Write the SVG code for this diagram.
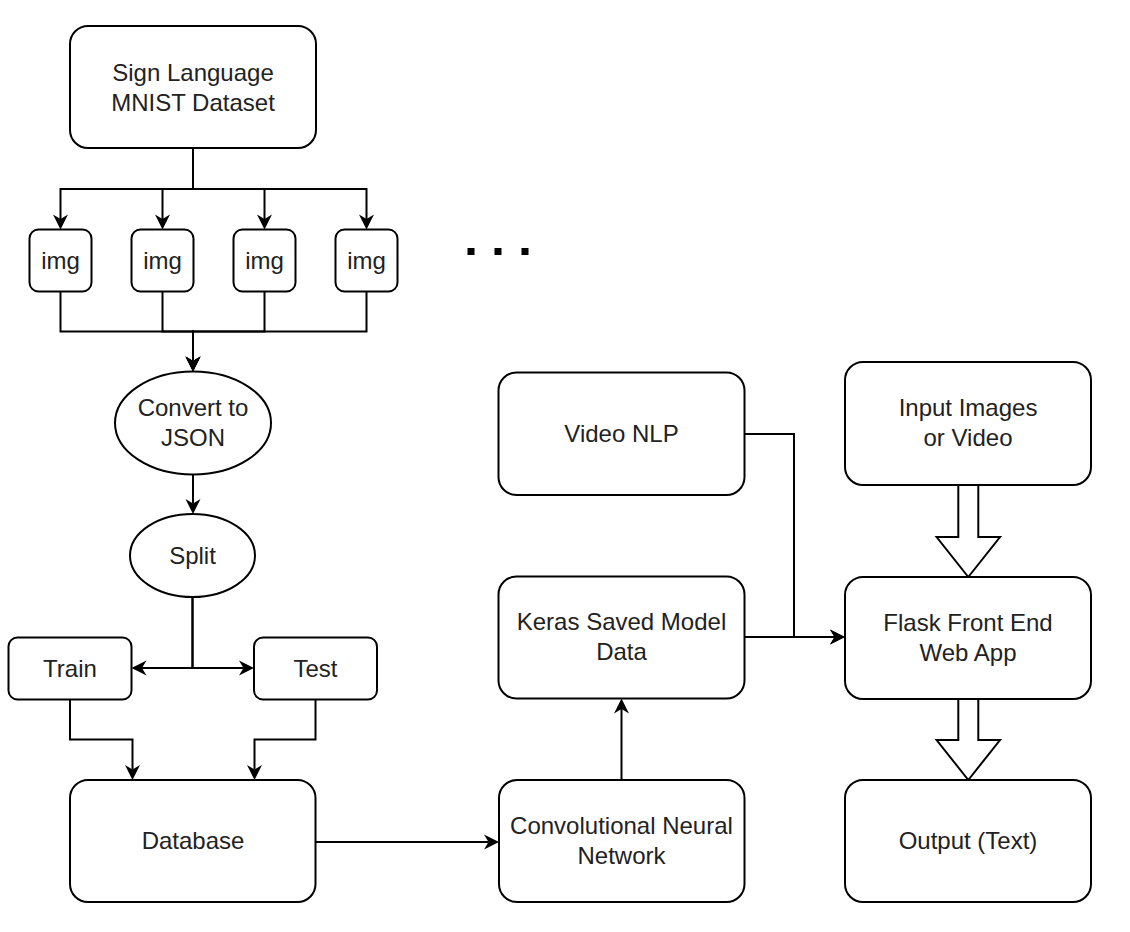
<svg xmlns="http://www.w3.org/2000/svg" width="1130" height="932" viewBox="0 0 1130 932">
<style>
.box{fill:#fff;stroke:#000;stroke-width:2}
.lbl{font-family:"Liberation Sans",Arial,sans-serif;font-size:24px;fill:#222;text-anchor:middle}
.edge{fill:none;stroke:#000;stroke-width:2}
.arr{marker-end:url(#ah)}
.blk{fill:#fff;stroke:#000;stroke-width:2;stroke-linejoin:miter}
</style>
<defs>
<marker id="ah" viewBox="-16 -9 17 18" refX="-10.5" refY="0" markerWidth="17" markerHeight="18" markerUnits="userSpaceOnUse" orient="auto-start-reverse">
<path d="M0,0 L-15,-7.5 L-10.5,0 L-15,7.5 Z" fill="#000"/>
</marker>
</defs>
<rect width="1130" height="932" fill="#fff"/>

<g id="connectors">
<path class="edge arr" d="M193,148 V189 H60.5 V219"/>
<path class="edge arr" d="M193,148 V189 H162.5 V219"/>
<path class="edge arr" d="M193,148 V189 H264.5 V219"/>
<path class="edge arr" d="M193,148 V189 H366.5 V219"/>
<path class="edge arr" d="M60.5,291.5 V331.5 H193 V361"/>
<path class="edge arr" d="M162.5,291.5 V331.5 H193 V361"/>
<path class="edge arr" d="M264.5,291.5 V331.5 H193 V361"/>
<path class="edge arr" d="M366.5,291.5 V331.5 H193 V361"/>
<path class="edge arr" d="M193,474.5 V503.5"/>
<path class="edge arr" d="M192.5,597 V668 H142"/>
<path class="edge arr" d="M192.5,597 V668 H243.5"/>
<path class="edge arr" d="M70,699.5 V739.5 H132.5 V769.5"/>
<path class="edge arr" d="M315.5,699.5 V739.5 H254.5 V769.5"/>
<path class="edge arr" d="M315.5,842 H488.5"/>
<path class="edge arr" d="M621.5,780 V709"/>
<path class="edge arr" d="M744.5,637 H834.5"/>
<path class="edge arr" d="M744.5,434 H794 V637 H834.5"/>
<polygon class="blk" points="958.3,485 978.3,485 978.3,537 1000,537 968.3,577 936.6,537 958.3,537"/>
<polygon class="blk" points="958.3,699 978.3,699 978.3,740 1000,740 968.3,780 936.6,740 958.3,740"/>
</g>

<g id="sign-dataset">
<rect class="box" x="70" y="26" width="246" height="122" rx="18"/>
<text class="lbl" x="193" y="80.5">Sign Language</text>
<text class="lbl" x="193" y="110.5">MNIST Dataset</text>
</g>
<g id="img1">
<rect class="box" x="29.5" y="229.5" width="62" height="62" rx="9"/>
<text class="lbl" x="60.5" y="268.5">img</text>
</g>
<g id="img2">
<rect class="box" x="131.5" y="229.5" width="62" height="62" rx="9"/>
<text class="lbl" x="162.5" y="268.5">img</text>
</g>
<g id="img3">
<rect class="box" x="233.5" y="229.5" width="62" height="62" rx="9"/>
<text class="lbl" x="264.5" y="268.5">img</text>
</g>
<g id="img4">
<rect class="box" x="335.5" y="229.5" width="62" height="62" rx="9"/>
<text class="lbl" x="366.5" y="268.5">img</text>
</g>
<g id="ellipsis">
<rect x="467.5" y="248" width="7" height="7" fill="#000"/>
<rect x="494.5" y="248" width="7" height="7" fill="#000"/>
<rect x="521.5" y="248" width="7" height="7" fill="#000"/>
</g>
<g id="convert-json">
<ellipse class="box" cx="193" cy="423" rx="78" ry="51.5"/>
<text class="lbl" x="193" y="415.5">Convert to</text>
<text class="lbl" x="193" y="446">JSON</text>
</g>
<g id="split">
<ellipse class="box" cx="192.5" cy="555.5" rx="62.5" ry="41.5"/>
<text class="lbl" x="192.5" y="563.5">Split</text>
</g>
<g id="train">
<rect class="box" x="8.5" y="637.5" width="123" height="62" rx="9"/>
<text class="lbl" x="70" y="676.5">Train</text>
</g>
<g id="test">
<rect class="box" x="254" y="637.5" width="123" height="62" rx="9"/>
<text class="lbl" x="315.5" y="676.5">Test</text>
</g>
<g id="database">
<rect class="box" x="70" y="780" width="245.5" height="122" rx="18"/>
<text class="lbl" x="193" y="849">Database</text>
</g>
<g id="cnn">
<rect class="box" x="499" y="780" width="245.5" height="122" rx="18"/>
<text class="lbl" x="621.5" y="834">Convolutional Neural</text>
<text class="lbl" x="621.5" y="864">Network</text>
</g>
<g id="keras">
<rect class="box" x="498.5" y="576.5" width="246" height="122" rx="18"/>
<text class="lbl" x="621.5" y="629.5">Keras Saved Model</text>
<text class="lbl" x="621.5" y="660">Data</text>
</g>
<g id="video-nlp">
<rect class="box" x="498.5" y="372.5" width="246" height="122.5" rx="18"/>
<text class="lbl" x="621.5" y="442">Video NLP</text>
</g>
<g id="input">
<rect class="box" x="845" y="362" width="246" height="123" rx="18"/>
<text class="lbl" x="968" y="415.5">Input Images</text>
<text class="lbl" x="968" y="446">or Video</text>
</g>
<g id="flask">
<rect class="box" x="845" y="577" width="246" height="122" rx="18"/>
<text class="lbl" x="968" y="630.5">Flask Front End</text>
<text class="lbl" x="968" y="661">Web App</text>
</g>
<g id="output">
<rect class="box" x="845" y="780" width="246" height="122" rx="18"/>
<text class="lbl" x="968" y="849">Output (Text)</text>
</g>
</svg>
